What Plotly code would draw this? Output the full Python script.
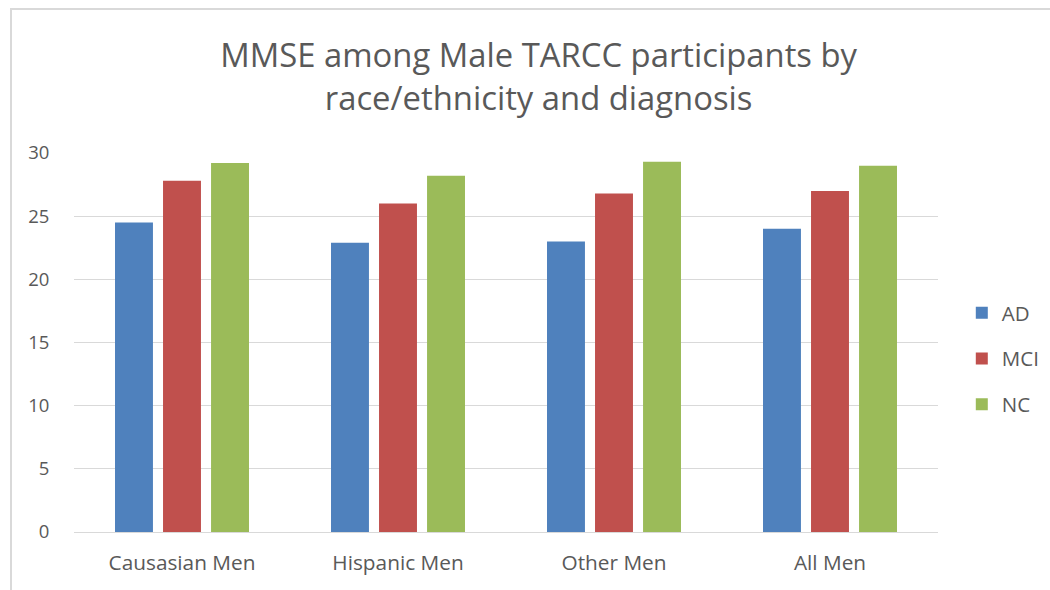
import plotly.graph_objects as go

categories = ["Causasian Men", "Hispanic Men", "Other Men", "All Men"]
ad = [24.5, 22.9, 23.0, 24.0]
mci = [27.8, 26.0, 26.8, 27.0]
nc = [29.2, 28.2, 29.3, 29.0]
series_names = ["AD", "MCI", "NC"]
colors = ["#4f81bd", "#c0504d", "#9bbb59"]
title_text = "MMSE among Male TARCC participants by<br>race/ethnicity and diagnosis"

FONT = "Open Sans, sans-serif"
TXT = "#595959"

fig = go.Figure()
for name, vals, col in zip(series_names, [ad, mci, nc], colors):
    fig.add_trace(go.Bar(
        x=categories, y=vals, name=name, legendgroup=name,
        marker=dict(color=col, line=dict(width=0)),
    ))

fig.update_layout(
    width=1050, height=590,
    margin=dict(l=74, r=112, t=153, b=58),
    paper_bgcolor="white", plot_bgcolor="white",
    barmode="group", bargap=0.333, bargroupgap=0.21,
    title=dict(text=title_text, x=0.513, xanchor="center", y=0.886, yanchor="middle",
               font=dict(family=FONT, size=32.8, color=TXT)),
    font=dict(family=FONT, color=TXT, size=16),
    legend=dict(xref="container", x=0.916, yref="container", y=(590 - 358.5) / 590,
                xanchor="left", yanchor="middle",
                font=dict(size=20.5, color=TXT), traceorder="grouped",
                tracegroupgap=16, itemwidth=30, bgcolor="rgba(0,0,0,0)",
                borderwidth=0),
    xaxis=dict(showgrid=False, showline=True, linecolor="#d9d9d9", linewidth=1,
               ticks="outside", ticklen=12, tickcolor="rgba(0,0,0,0)",
               tickfont=dict(size=20.8, color=TXT)),
    yaxis=dict(range=[0, 30], dtick=5, showgrid=True, gridcolor="#d9d9d9", gridwidth=1,
               zeroline=False, showline=False,
               ticks="outside", ticklen=20, tickcolor="rgba(0,0,0,0)",
               tickfont=dict(size=18.5, color=TXT)),
)

fig.add_shape(type="rect", xref="paper", yref="paper",
              x0=(11 - 74) / 864, x1=1.3, y0=-0.3, y1=(532 - 9) / 379,
              line=dict(color="#d9d9d9", width=2), fillcolor="rgba(0,0,0,0)", layer="below")

fig.write_html("out.html", config={"displayModeBar": False},
               post_script="document.body.style.margin='0px';")
